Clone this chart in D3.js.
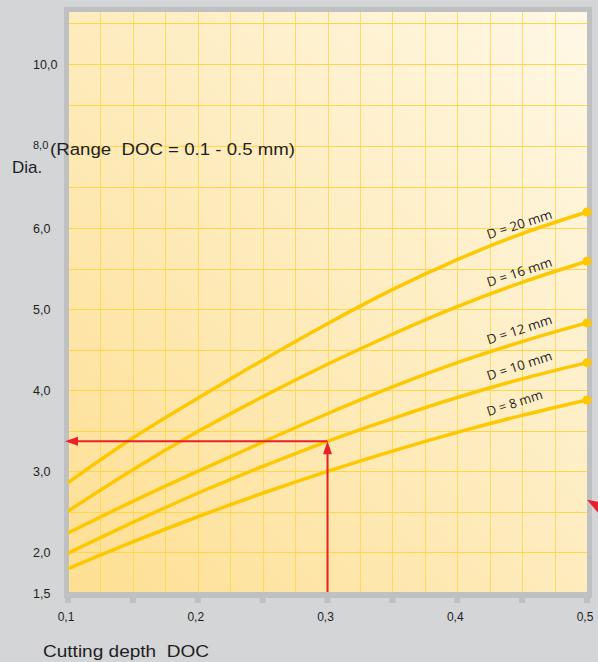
<!DOCTYPE html>
<html>
<head>
<meta charset="utf-8">
<script src="https://cdn.jsdelivr.net/npm/d3@7"></script>
<style>
  html, body { margin: 0; padding: 0; background: #d4d5d7; }
  svg { display: block; }
  text { white-space: pre; }
</style>
</head>
<body>
<div id="chart"></div>
<script>
const chartWidth = 598;
const chartHeight = 662;

// cutting depth (mm) at which each curve is sampled
const depthValues = [0.1, 0.15, 0.2, 0.25, 0.3, 0.35, 0.4, 0.45, 0.5];

const curveNames = ["D = 20 mm", "D = 16 mm", "D = 12 mm", "D = 10 mm", "D = 8 mm"];
const curveD20 = [2.86, 3.41, 3.90, 4.37, 4.82, 5.24, 5.61, 5.93, 6.39];
const curveD16 = [2.51, 3.02, 3.49, 3.92, 4.32, 4.69, 5.03, 5.33, 5.59];
const curveD12 = [2.24, 2.63, 3.00, 3.36, 3.71, 4.04, 4.34, 4.60, 4.83];
const curveD10 = [1.99, 2.37, 2.73, 3.06, 3.37, 3.65, 3.91, 4.14, 4.34];
const curveD8 = [1.80, 2.13, 2.44, 2.73, 3.00, 3.25, 3.48, 3.69, 3.88];

const yTickValues = [1.5, 2, 3, 4, 5, 6, 8, 10];
const yTickLabels = ["1,5", "2,0", "3,0", "4,0", "5,0", "6,0", "8,0", "10,0"];
const xTickValues = [0.1, 0.2, 0.3, 0.4, 0.5];
const xTickLabels = ["0,1", "0,2", "0,3", "0,4", "0,5"];

// example reading: depth 0.3 on the D = 10 mm curve
const exampleDepth = 0.3;
const exampleDia = 3.37;

const seriesList = [curveD20, curveD16, curveD12, curveD10, curveD8].map((vals, i) => ({
  name: curveNames[i],
  points: vals.map((v, j) => ({ doc: depthValues[j], dia: v })),
}));

const x = d3.scaleLinear().domain([0.1, 0.5]).range([68, 587]);
// the axis is stretched: 0.5 per grid step up to 6, then 1 per step
const y = d3.scaleLinear().domain([1.5, 6, 10]).range([593, 228, 64]);

const frameColor = "#bfc0c2";
const curveColor = "#fdc800";
const gridColor = "#fdd64a";
const redColor = "#e8202a";
const textColor = "#1e1e1e";

const svg = d3
  .select("#chart")
  .append("svg")
  .attr("width", chartWidth)
  .attr("height", chartHeight)
  .style("font-family", "'Liberation Sans', Arial, sans-serif");

const defs = svg.append("defs");
const grad = defs
  .append("linearGradient")
  .attr("id", "panelFill")
  .attr("x1", "0%")
  .attr("y1", "100%")
  .attr("x2", "100%")
  .attr("y2", "0%");
grad.append("stop").attr("offset", "0%").attr("stop-color", "#fedf92");
grad.append("stop").attr("offset", "55%").attr("stop-color", "#feedc2");
grad.append("stop").attr("offset", "100%").attr("stop-color", "#fff8e6");

// frame + tick nubs
const frameLeft = x(0.1) - 4;
const frameRight = x(0.5) + 5;
const frameTop = 7;
const frameBottom = y(1.5) + 5;

svg
  .append("rect")
  .attr("x", frameLeft)
  .attr("y", frameTop)
  .attr("width", frameRight - frameLeft)
  .attr("height", frameBottom - frameTop)
  .attr("fill", frameColor);

svg
  .selectAll(".nub")
  .data(d3.range(0.1, 0.5001, 0.05))
  .join("rect")
  .attr("class", "nub")
  .attr("x", (d) => x(d) - 3)
  .attr("y", frameBottom - 1)
  .attr("width", 6)
  .attr("height", 6)
  .attr("fill", frameColor);

svg
  .append("rect")
  .attr("x", frameLeft + 5)
  .attr("y", frameTop + 5)
  .attr("width", x(0.5) - frameLeft - 5)
  .attr("height", y(1.5) - 1 - frameTop - 5)
  .attr("fill", "url(#panelFill)");

const plot = svg.append("g");

// grid
const hGrid = d3.range(1.5, 6.01, 0.5).concat([7, 8, 9, 10, 11]);
plot
  .selectAll(".hgrid")
  .data(hGrid.filter((d) => d > 1.5))
  .join("line")
  .attr("class", "hgrid")
  .attr("x1", frameLeft + 5)
  .attr("x2", x(0.5))
  .attr("y1", (d) => Math.round(y(d)) + 0.5)
  .attr("y2", (d) => Math.round(y(d)) + 0.5)
  .attr("stroke", gridColor)
  .attr("stroke-width", 1);

plot
  .selectAll(".vgrid")
  .data(d3.range(0.125, 0.4901, 0.025))
  .join("line")
  .attr("class", "vgrid")
  .attr("x1", (d) => Math.round(x(d)) + 0.5)
  .attr("x2", (d) => Math.round(x(d)) + 0.5)
  .attr("y1", frameTop + 5)
  .attr("y2", y(1.5) - 1)
  .attr("stroke", gridColor)
  .attr("stroke-opacity", 0.8)
  .attr("stroke-width", 1);

// curves
const line = d3
  .line()
  .x((d) => x(d.doc))
  .y((d) => y(d.dia))
  .curve(d3.curveMonotoneX);

plot
  .selectAll(".curve")
  .data(seriesList)
  .join("path")
  .attr("class", "curve")
  .attr("d", (d) => line(d.points))
  .attr("fill", "none")
  .attr("stroke", curveColor)
  .attr("stroke-width", 3.5);

plot
  .selectAll(".end-dot")
  .data(seriesList)
  .join("circle")
  .attr("class", "end-dot")
  .attr("cx", (d) => x(d.points[d.points.length - 1].doc))
  .attr("cy", (d) => y(d.points[d.points.length - 1].dia))
  .attr("r", 4.5)
  .attr("fill", curveColor);

// curve labels
const labelDoc = 0.424;
function pyAt(points, doc) {
  const i = d3.bisector((p) => p.doc).right(points, doc) - 1;
  const a = points[i];
  const b = points[i + 1];
  const t = (doc - a.doc) / (b.doc - a.doc);
  return y(a.dia) + (y(b.dia) - y(a.dia)) * t;
}

plot
  .selectAll(".curve-label")
  .data(seriesList)
  .join("text")
  .attr("class", "curve-label")
  .attr(
    "transform",
    (d) => `translate(${x(labelDoc)}, ${pyAt(d.points, labelDoc) - 8}) rotate(-18)`,
  )
  .attr("font-family", "'Open Sans', 'Noto Sans', sans-serif")
  .attr("font-size", 13)
  .attr("fill", textColor)
  .attr("textLength", (d) => (d.name.length === 8 ? 58 : 68))
  .attr("lengthAdjust", "spacingAndGlyphs")
  .text((d) => d.name);

// red example arrows
const ax = x(exampleDepth);
const ay = y(exampleDia);
const tipX = x(0.1) - 3;

plot
  .append("line")
  .attr("x1", ax)
  .attr("x2", tipX + 10)
  .attr("y1", ay)
  .attr("y2", ay)
  .attr("stroke", redColor)
  .attr("stroke-width", 2);

plot
  .append("path")
  .attr("d", `M${tipX},${ay} L${tipX + 13},${ay - 4.5} L${tipX + 13},${ay + 4.5} Z`)
  .attr("fill", redColor);

plot
  .append("line")
  .attr("x1", ax)
  .attr("x2", ax)
  .attr("y1", y(1.5) - 1)
  .attr("y2", ay + 10)
  .attr("stroke", redColor)
  .attr("stroke-width", 2);

plot
  .append("path")
  .attr("d", `M${ax},${ay} L${ax - 4.5},${ay + 13} L${ax + 4.5},${ay + 13} Z`)
  .attr("fill", redColor);

// cut-off arrow at the right edge
const cutY = y(2.65);
plot
  .append("path")
  .attr("d", `M${x(0.5)},${cutY} L${chartWidth},${cutY + 2} L${chartWidth},${cutY + 13} Z`)
  .attr("fill", redColor);

// y tick labels
svg
  .selectAll(".ytick")
  .data(yTickValues)
  .join("text")
  .attr("class", "ytick")
  .attr("x", 33)
  .attr("y", (d) => y(d) + (d === 8 ? 3 : 4.5))
  .attr("font-size", (d) => (d === 8 ? 11 : 12.5))
  .attr("fill", textColor)
  .text((d, i) => yTickLabels[i]);

// x tick labels
svg
  .selectAll(".xtick")
  .data(xTickValues)
  .join("text")
  .attr("class", "xtick")
  .attr("x", (d) => x(d) - 2)
  .attr("y", 621)
  .attr("text-anchor", "middle")
  .attr("font-size", 12)
  .attr("fill", textColor)
  .text((d, i) => xTickLabels[i]);

// titles
svg
  .append("text")
  .attr("x", 50)
  .attr("y", 155)
  .attr("font-size", 16)
  .attr("fill", textColor)
  .attr("textLength", 245)
  .attr("lengthAdjust", "spacingAndGlyphs")
  .text("(Range  DOC = 0.1 - 0.5 mm)");

svg
  .append("text")
  .attr("x", 12)
  .attr("y", 173)
  .attr("font-size", 17)
  .attr("fill", textColor)
  .text("Dia.");

svg
  .append("text")
  .attr("x", 43)
  .attr("y", 657)
  .attr("font-size", 17)
  .attr("fill", textColor)
  .attr("textLength", 166)
  .attr("lengthAdjust", "spacingAndGlyphs")
  .text("Cutting depth  DOC");
</script>
</body>
</html>
